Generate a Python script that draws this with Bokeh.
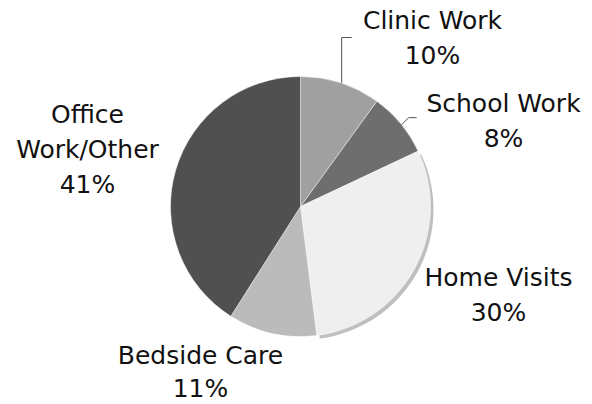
import math
from bokeh.plotting import figure
from bokeh.models import Range1d
from bokeh.core.properties import value
from bokeh.embed import file_html
from bokeh.resources import INLINE

# Data
categories = ["Clinic Work", "School Work", "Home Visits", "Bedside Care", "Office Work/Other"]
percents = [10, 8, 30, 11, 41]
colors = ["#a0a0a0", "#6e6e6e", "#efefef", "#bbbbbb", "#505050"]

# Layout (image pixel coordinates, y down)
W, H = 592, 404
CX, CY, R = 300, 206, 130
label_pos = {
    "Clinic Work": (432, 20),
    "School Work": (503, 103),
    "Home Visits": (498, 277),
    "Bedside Care": (200, 355),
    "Office Work/Other": (87, 114),
}
LINE_GAP = {"Bedside Care": 33}

def Y(y):
    return H - y

p = figure(width=W, height=H, output_backend="svg", toolbar_location=None,
           x_range=Range1d(0, W), y_range=Range1d(0, H), min_border=0)
p.axis.visible = False
p.grid.visible = False
p.outline_line_color = None
p.background_fill_color = "white"

total = sum(percents)
starts, ends, mids = [], [], []
a = 90.0
for v in percents:
    sweep = 360.0 * v / total
    ends.append(math.radians(a))
    starts.append(math.radians(a - sweep))
    mids.append(math.radians(a - sweep / 2))
    a -= sweep

# shadow behind Home Visits
hi = categories.index("Home Visits")
p.wedge(x=CX + 3, y=Y(CY + 3), radius=R, start_angle=starts[hi], end_angle=ends[hi],
        fill_color="#bfbfbf", line_color=None)

for i, c in enumerate(categories):
    p.wedge(x=CX, y=Y(CY), radius=R, start_angle=starts[i], end_angle=ends[i],
            fill_color=colors[i], line_color="white", line_width=0.8, line_alpha=0.6)

# leader lines
ci = categories.index("Clinic Work")
ex, ey = CX + R * math.cos(mids[ci]), CY - R * math.sin(mids[ci])
p.line(x=[ex + 1, ex + 1, ex + 11], y=[Y(ey), Y(37), Y(37)], line_color="#555555", line_width=1)
si = categories.index("School Work")
ex, ey = CX + R * math.cos(mids[si]), CY - R * math.sin(mids[si])
p.line(x=[ex + 1, ex + 8, ex + 16], y=[Y(ey + 1), Y(ey - 6), Y(ey - 6)], line_color="#555555", line_width=1)

# labels
for c, v in zip(categories, percents):
    lx, ly = label_pos[c]
    gap = LINE_GAP.get(c, 35)
    if c == "Office Work/Other":
        lines = ["Office", "Work/Other", f"{v}%"]
    else:
        lines = [c, f"{v}%"]
    for k, t in enumerate(lines):
        p.text(x=[lx], y=[Y(ly + gap * k)], text=[t], text_align="center", text_baseline="middle",
               text_font=value("DejaVu Sans"), text_font_size="25px", text_color="#111111")

open("out.html", "w").write(file_html(p, INLINE))
